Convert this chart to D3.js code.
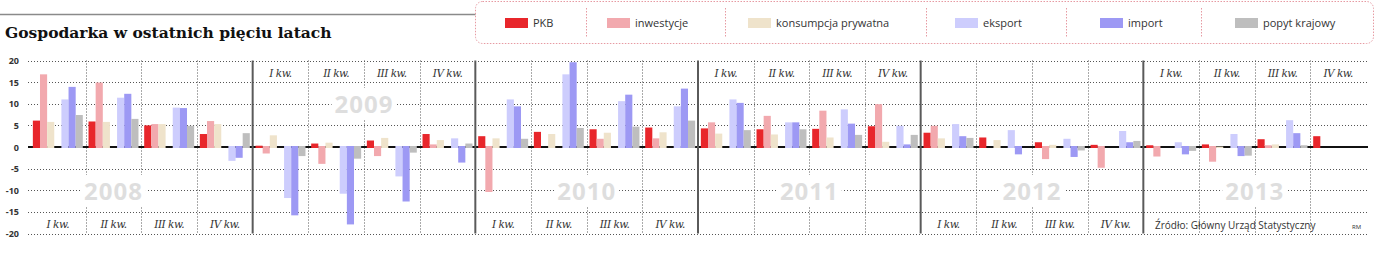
<!DOCTYPE html>
<html>
<head>
<meta charset="utf-8">
<script src="https://cdn.jsdelivr.net/npm/d3@7"></script>
<style>
  body { margin: 0; background: #fff; }
  svg { display: block; }
</style>
</head>
<body>
<div id="chart"></div>
<script>
var years = ["2008", "2009", "2010", "2011", "2012", "2013"];
var quarterLabels = ["I kw.", "II kw.", "III kw.", "IV kw."];
var yTicks = [20, 15, 10, 5, 0, -5, -10, -15, -20];
var seriesNames = ["PKB", "inwestycje", "konsumpcja prywatna", "eksport", "import", "popyt krajowy"];
var seriesColors = ["#e8262b", "#f2a9ae", "#efe3cb", "#cdcdfd", "#9d99f4", "#bebebe"];

var pkb        = [6.1, 5.9, 5.0, 3.0, 0.3, 0.8, 1.5, 3.0, 2.5, 3.5, 4.1, 4.5, 4.3, 4.1, 4.2, 4.8, 3.3, 2.2, 1.1, 0.5, 0.4, 0.6, 1.8, 2.5];
var inwestycje = [16.8, 14.9, 5.3, 6.0, -1.5, -3.9, -2.1, 0.6, -10.4, 0.0, 1.9, 2.0, 5.7, 7.2, 8.4, 9.9, 4.9, 0.0, -2.8, -4.8, -2.2, -3.4, 0.4, null];
var konsumpcja = [5.8, 5.8, 5.3, 5.3, 2.7, 1.0, 2.1, 1.6, 2.0, 3.0, 3.3, 3.4, 3.1, 2.9, 2.2, 1.2, 2.0, 1.6, 0.5, 0.0, 0.0, 0.1, 0.6, null];
var eksport    = [11.0, 11.4, 9.1, -3.2, -11.8, -10.8, -6.8, 2.0, 11.0, 16.8, 10.6, 9.4, 11.0, 5.7, 8.7, 4.9, 5.3, 3.9, 1.9, 3.7, 1.1, 3.0, 6.2, null];
var importy    = [13.9, 12.3, 9.0, -2.5, -15.8, -17.9, -12.6, -3.6, 9.4, 19.6, 12.1, 13.5, 10.2, 5.7, 5.4, 0.6, 2.5, -1.7, -2.3, 1.1, -1.7, -2.1, 3.2, null];
var popyt      = [7.4, 6.5, 4.9, 3.2, -2.1, -2.7, -1.3, 0.8, 1.9, 4.4, 4.7, 6.1, 3.9, 4.1, 2.8, 2.8, 2.1, 0.0, -0.8, 1.4, -0.9, -2.0, 0.4, null];

// which years have labels on top (the others at the bottom)
var quarterLabelsTop = [false, true, false, true, false, true];
var yearLabelTop = [false, true, false, false, false, false];

function init() {
    var w = 1400, h = 259;
    var seriesData = [pkb, inwestycje, konsumpcja, eksport, importy, popyt];
    // slot index for each series inside a quarter (slot 3 stays empty)
    var slotOf = [0, 1, 2, 4, 5, 6];

    var svg = d3.select("#chart").append("svg")
        .attr("width", w)
        .attr("height", h);

    var yScale = d3.scaleLinear().domain([-20, 20]).range([233.5, 60.5]);

    var xYear = d3.scaleBand().domain(years).range([30, 1366]);
    var xQuarter = d3.scaleBand().domain(d3.range(4)).range([0, xYear.bandwidth()]);
    var xSlot = d3.scaleBand().domain(d3.range(7)).range([0, xQuarter.bandwidth()])
        .paddingInner(0).paddingOuter(0.4);

    function qx(i) {
        return xYear(years[Math.floor(i / 4)]) + xQuarter(i % 4);
    }

    // title + top rule
    svg.append("line")
        .attr("x1", 0).attr("x2", 476).attr("y1", 14.5).attr("y2", 14.5)
        .attr("stroke", "#8a8a8a").attr("stroke-width", 1.5);

    svg.append("text")
        .attr("x", 5).attr("y", 38)
        .attr("font-family", "DejaVu Serif")
        .attr("font-weight", "bold")
        .attr("font-size", 15.5)
        .attr("fill", "#111")
        .text("Gospodarka w ostatnich pięciu latach");

    // legend
    var legend = svg.append("g");
    legend.append("rect")
        .attr("x", 475.5).attr("y", 1.5).attr("width", 898).attr("height", 42)
        .attr("rx", 7)
        .attr("fill", "#fff")
        .attr("stroke", "#e69aa2")
        .attr("stroke-dasharray", "1.5,1.5");

    var legendX = [505, 607, 748, 955, 1100, 1235];
    var sepX = [586, 725, 926, 1066, 1201];
    legend.selectAll("line.sep")
        .data(sepX)
        .enter()
        .append("line")
        .attr("x1", function(d) { return d + 0.5; })
        .attr("x2", function(d) { return d + 0.5; })
        .attr("y1", 8).attr("y2", 38)
        .attr("stroke", "#e69aa2")
        .attr("stroke-dasharray", "1.5,1.5");

    var items = legend.selectAll("g.item")
        .data(seriesNames)
        .enter()
        .append("g")
        .attr("transform", function(d, i) { return "translate(" + legendX[i] + ",0)"; });
    items.append("rect")
        .attr("x", 0).attr("y", 18).attr("width", 23).attr("height", 10)
        .attr("fill", function(d, i) { return seriesColors[i]; });
    items.append("text")
        .attr("x", 28).attr("y", 27)
        .attr("font-family", "Open Sans")
        .attr("font-size", 11)
        .attr("fill", "#333")
        .text(function(d) { return d; });

    // horizontal dotted grid
    svg.selectAll("line.hgrid")
        .data(yTicks.filter(function(d) { return d !== 0; }))
        .enter()
        .append("line")
        .attr("x1", 28).attr("x2", 1368)
        .attr("y1", function(d) { return Math.round(yScale(d)) + 0.5; })
        .attr("y2", function(d) { return Math.round(yScale(d)) + 0.5; })
        .attr("stroke", "#555")
        .attr("stroke-dasharray", "1,2");

    // vertical dotted lines at quarter boundaries
    var qBounds = d3.range(24).filter(function(i) { return i % 4 !== 0; });
    svg.selectAll("line.vgrid")
        .data(qBounds)
        .enter()
        .append("line")
        .attr("x1", function(i) { return Math.round(qx(i)) + 0.5; })
        .attr("x2", function(i) { return Math.round(qx(i)) + 0.5; })
        .attr("y1", yScale(20)).attr("y2", yScale(-20))
        .attr("stroke", "#555")
        .attr("stroke-dasharray", "1,2");

    // y tick labels
    svg.selectAll("text.ytick")
        .data(yTicks)
        .enter()
        .append("text")
        .attr("x", 19)
        .attr("y", function(d) { return yScale(d) + 3.5; })
        .attr("text-anchor", "end")
        .attr("font-family", "Open Sans")
        .attr("font-weight", "bold")
        .attr("font-size", 9)
        .attr("fill", "#333")
        .text(function(d) { return d; });

    // year labels with white backing
    years.forEach(function(y, i) {
        var cx = xYear(y) + xYear.bandwidth() / 2;
        if (i === 0) cx = qx(1) + xQuarter.bandwidth() / 2;
        var by = yearLabelTop[i] ? 113 : 200;
        var t = svg.append("text")
            .attr("x", cx).attr("y", by)
            .attr("text-anchor", "middle")
            .attr("font-family", "Open Sans")
            .attr("font-weight", "bold")
            .attr("font-size", 24)
            .attr("letter-spacing", 1)
            .attr("fill", "#dedede")
            .text(y);
        var bb = t.node().getBBox();
        svg.insert("rect", function() { return t.node(); })
            .attr("x", bb.x - 3).attr("y", bb.y + 1)
            .attr("width", bb.width + 6).attr("height", bb.height - 2)
            .attr("fill", "#fff");
    });

    // quarter labels
    d3.range(24).forEach(function(i) {
        var yi = Math.floor(i / 4);
        svg.append("text")
            .attr("x", qx(i) + xQuarter.bandwidth() / 2)
            .attr("y", quarterLabelsTop[yi] ? 77 : 228)
            .attr("text-anchor", "middle")
            .attr("font-family", "DejaVu Serif")
            .attr("font-style", "italic")
            .attr("font-size", 10.5)
            .attr("letter-spacing", -0.5)
            .attr("fill", "#333")
            .text(quarterLabels[i % 4]);
    });

    // zero line
    svg.append("line")
        .attr("x1", 28).attr("x2", 1368)
        .attr("y1", yScale(0)).attr("y2", yScale(0))
        .attr("stroke", "#111").attr("stroke-width", 2);

    // bars
    seriesData.forEach(function(vals, s) {
        svg.append("g")
            .selectAll("rect")
            .data(vals.map(function(v, i) { return {v: v, i: i}; })
                      .filter(function(d) { return d.v !== null && d.v !== 0; }))
            .enter()
            .append("rect")
            .attr("x", function(d) { return qx(d.i) + xSlot(slotOf[s]); })
            .attr("width", xSlot.bandwidth())
            .attr("y", function(d) { return d.v > 0 ? yScale(d.v) : yScale(0) - 1; })
            .attr("height", function(d) { return Math.abs(yScale(d.v) - yScale(0)) + 1; })
            .attr("fill", seriesColors[s]);
    });

    // year separators
    svg.selectAll("line.ysep")
        .data(years.slice(1))
        .enter()
        .append("line")
        .attr("x1", function(d) { return xYear(d); })
        .attr("x2", function(d) { return xYear(d); })
        .attr("y1", yScale(20)).attr("y2", yScale(-20))
        .attr("stroke", "#5a5a5a").attr("stroke-width", 2);

    // source
    svg.append("text")
        .attr("x", 1155).attr("y", 229)
        .attr("font-family", "Open Sans")
        .attr("font-size", 10)
        .attr("fill", "#333")
        .text("Źródło: Główny Urząd Statystyczny");
    svg.append("text")
        .attr("x", 1352).attr("y", 229)
        .attr("font-family", "Open Sans")
        .attr("font-size", 6)
        .attr("fill", "#333")
        .text("RM");
}
window.onload = init;
</script>
</body>
</html>
